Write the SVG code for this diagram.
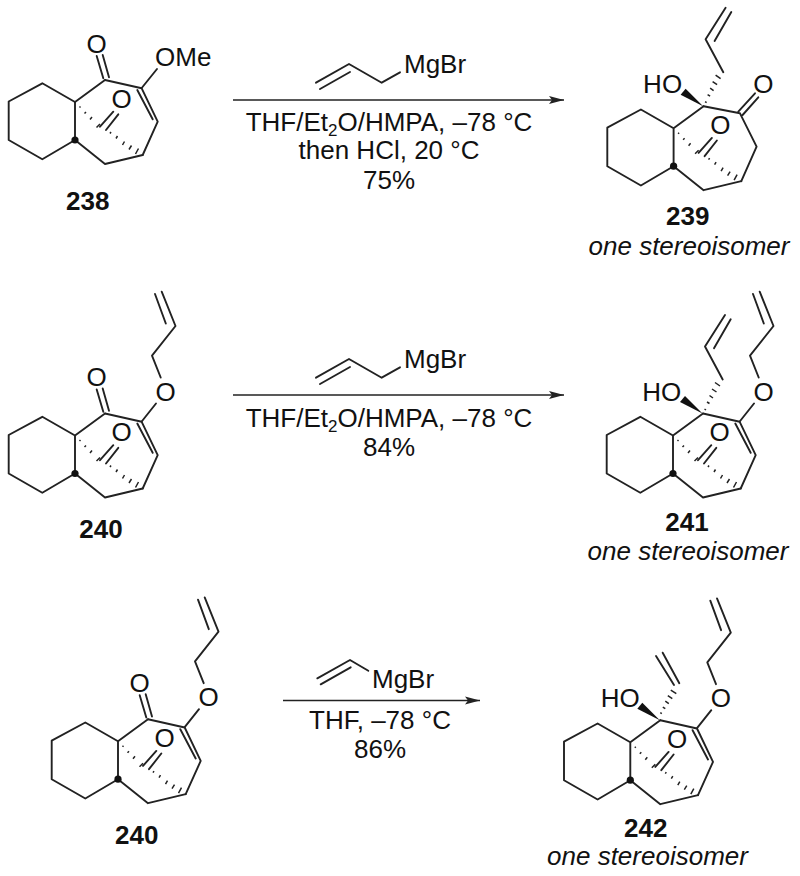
<svg xmlns="http://www.w3.org/2000/svg" xmlns:xlink="http://www.w3.org/1999/xlink" width="800" height="876" viewBox="0 0 800 876">
<style>
text{font-family:"Liberation Sans",Arial,sans-serif;font-size:26px;fill:#111}
.c{text-anchor:middle}
.b{font-weight:bold}
.i{font-style:italic}
.l{fill:none;stroke:#222;stroke-width:1.9;stroke-linecap:round;stroke-linejoin:round}
.h{fill:none;stroke:#222;stroke-width:1.5}
.a{fill:none;stroke:#222;stroke-width:1.6}
</style>
<defs>
<marker id="ah" markerUnits="userSpaceOnUse" markerWidth="16" markerHeight="12" refX="15" refY="5" orient="auto"><path d="M0 1L15 5L0 9L3 5Z" fill="#222"/></marker>
<g id="core">
<path class="l" d="M75 102L42.300 83.300L8.700 101.500V140L42.300 159.300L75 140ZM75 102L105 80M75 140L105 164L142.700 155"/>
<circle cx="75" cy="140" r="3.600" fill="#111"/>
<path class="h" d="M79.500 107.500l1-1M84.500 113.500l1.500-1.500M90 119.500l2-2.500M96.500 127.500l3.500-3.500M110 133.500l1-1.500M116 138.500l1.500-2.500M122.500 145l2-3.500M129 149.500l2.500-4M135.500 154l3-5.500"/>
<path class="l" d="M100 126.700L113.300 111.700M106 130L118.300 114.300"/>
<text x="121.700" y="107.500" class="c">O</text>
</g>
<g id="enone">
<path class="l" d="M105 80L141.700 88.300L157.700 121.700L142.700 155M137.300 90L152.700 119.300"/>
</g>
<g id="ketone">
<path class="l" d="M96.700 56L103.300 78.300M102.700 55L109 77.300"/>
<text x="96.700" y="52.600" class="c">O</text>
</g>
<g id="oallyl">
<path class="l" d="M141.700 88L156 70M160.700 44L152 22.200L175.500 -7.500L161.700 -41.800M165.800 -10L155 -39.500"/>
<text x="165.500" y="67" class="c">O</text>
</g>
<g id="wedge">
<path d="M104.500 80L82 68.500L87 62.500Z" fill="#111"/>
</g>
<g id="callyl">
<use xlink:href="#wedge"/>
<path class="h" d="M108 76.500l-1.500 -1M111.500 70l-2.500-1.500M115 64.500l-3.500-2.500M118.500 58.500l-4.500-3M122 52.500l-5-3.500"/>
<path class="l" d="M124.700 46L107 13L127 -18.500M116 14.800L132.700 -14.200"/>
</g>
</defs>

<g id="connectors">
<path class="a" d="M233 100H564" marker-end="url(#ah)"/>
<path class="a" d="M233 395H564" marker-end="url(#ah)"/>
<path class="a" d="M283 700.500H480" marker-end="url(#ah)"/>
</g>

<g id="reagent1">
<path class="l" d="M316 82.700L349 64L381.700 82.700L400 72.300M320 89L350 72"/>
<text x="404" y="73">MgBr</text>
<text x="389" y="131" class="c">THF/Et<tspan dy="5" font-size="17">2</tspan><tspan dy="-5">O/HMPA, –78 °C</tspan></text>
<text x="389" y="159" class="c">then HCl, 20 °C</text>
<text x="389" y="189" class="c">75%</text>
</g>
<g id="reagent2">
<path class="l" d="M316 377.700L349 359L381.700 377.700L400 367.300M320 384L350 367"/>
<text x="404" y="368">MgBr</text>
<text x="389" y="427" class="c">THF/Et<tspan dy="5" font-size="17">2</tspan><tspan dy="-5">O/HMPA, –78 °C</tspan></text>
<text x="389" y="456" class="c">84%</text>
</g>
<g id="reagent3">
<path class="l" d="M317.300 678.300L350 660L368.300 670.700M320.700 684.300L350.700 667.300"/>
<text x="372" y="688">MgBr</text>
<text x="380" y="729" class="c">THF, –78 °C</text>
<text x="380" y="758" class="c">86%</text>
</g>

<g id="n238">
<use xlink:href="#core"/><use xlink:href="#enone"/><use xlink:href="#ketone"/>
<path class="l" d="M141.700 88L157 69"/>
<text x="155" y="66">OMe</text>
<text x="87.700" y="210" class="c b">238</text>
</g>

<g id="n239">
<g transform="translate(598.600 26.200)">
<use xlink:href="#core"/>
<path class="l" d="M105 80L141.400 87.100L158 120.500L142.700 155M139.700 85.500L156.400 67.100M144 88.800L159.700 71.100"/>
<text x="164.700" y="67" class="c">O</text>
<text x="44.500" y="67">HO</text>
<use xlink:href="#callyl"/>
</g>
<text x="687.700" y="225" class="c b">239</text>
<text x="689" y="255" class="c i">one stereoisomer</text>
</g>

<g id="n240a">
<g transform="translate(0 333.500)">
<use xlink:href="#core"/><use xlink:href="#enone"/><use xlink:href="#ketone"/>
<use xlink:href="#oallyl"/>
</g>
<text x="101" y="538" class="c b">240</text>
</g>

<g id="n241">
<g transform="translate(598 333.500)">
<use xlink:href="#core"/><use xlink:href="#enone"/>
<text x="44.300" y="67.500">HO</text>
<use xlink:href="#callyl"/>
<use xlink:href="#oallyl"/>
</g>
<text x="687" y="531" class="c b">241</text>
<text x="688" y="560" class="c i">one stereoisomer</text>
</g>

<g id="n240b">
<g transform="translate(43 639.200)">
<use xlink:href="#core"/><use xlink:href="#enone"/><use xlink:href="#ketone"/>
<use xlink:href="#oallyl"/>
</g>
<text x="136.700" y="844" class="c b">240</text>
</g>

<g id="n242">
<g transform="translate(555.300 640.200)">
<use xlink:href="#core"/><use xlink:href="#enone"/>
<text x="45.400" y="66.500">HO</text>
<use xlink:href="#wedge"/>
<path class="h" d="M106.500 73.500l-1.500-1M110 68.500l-2.500-1.500M113.500 63.500l-3.500-2.500M117 58.500l-4.500-3M121 53.500l-5.500-3.500"/>
<path class="l" d="M118.700 44.800L100.700 15.800M124 43L107.400 12.500"/>
<use xlink:href="#oallyl"/>
</g>
<text x="645.700" y="837" class="c b">242</text>
<text x="647.500" y="865" class="c i">one stereoisomer</text>
</g>
</svg>
